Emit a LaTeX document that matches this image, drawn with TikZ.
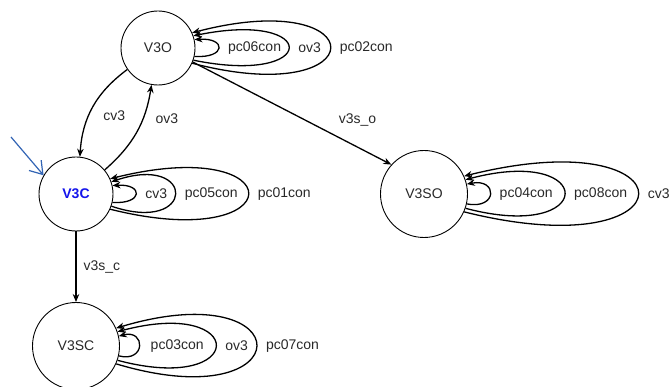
\documentclass[tikz,border=0pt]{standalone}
\usepackage{fontspec}
\setmainfont{Liberation Sans}
\usepackage{tikz}
\usetikzlibrary{arrows.meta, positioning}
\definecolor{inkgray}{RGB}{40, 40, 40}
\definecolor{stateblue}{RGB}{20, 20, 235}
\definecolor{pointerblue}{RGB}{50, 100, 180}

\begin{document}
\begin{tikzpicture}[
        x=1pt, y=-1pt,
        state/.style = {draw, circle, line width=0.9pt, minimum size=74pt, inner sep=0pt, text=inkgray, font=\fontsize{14}{16}\selectfont},
        bigstate/.style = {state, minimum size=87pt},
        arrow/.style = {line width=1.3pt, -{Stealth[length=8pt, width=6.5pt]}},
        lbl/.style = {text=inkgray, font=\fontsize{14}{16}\selectfont, inner sep=1pt},
        initial/.style = {pointerblue, line width=1.2pt, -{Straight Barb[length=12pt, width=16pt]}}
    ]
        \useasboundingbox (0,0) rectangle (670,387);

        % Nodes
        \node [state] (v3o) at (158,48) {V3O};
        \node [state, text=stateblue, font=\fontsize{14}{16}\selectfont\bfseries] (v3c) at (76,194) {V3C};
        \node [bigstate] (v3so) at (424,194) {V3SO};
        \node [bigstate] (v3sc) at (76,346) {V3SC};
        \coordinate (entry) at (11,137);

        % Connectors
        \draw [initial] (entry) -- (v3c.150);
        \draw [arrow] (v3o.215) to[bend right=25] node[lbl, pos=.6, right=13pt] {cv3} (v3c.84);
        \draw [arrow] (v3c.40) to[bend right=20] node[lbl, pos=.66, right=11pt] {ov3} (v3o.260);
        \draw [arrow] (v3o.-22) -- node[lbl, pos=.83, above=19pt] {v3s\_o} (v3so.138);
        \draw [arrow] (v3c) -- node[lbl, right=6pt] {v3s\_c} (v3sc);

        % Self loops
        \draw [arrow] (v3o.-13) .. controls +(32,2) and +(32,-2) .. node[lbl, right=8pt] {pc06con} (v3o.13);
        \draw [arrow] (v3o.-19) .. controls +(127,26) and +(127,-26) .. node[lbl, right=8pt] {ov3} (v3o.19);
        \draw [arrow] (v3o.-24) .. controls +(184,48) and +(184,-48) .. node[lbl, right=8pt] {pc02con} (v3o.24);

        \draw [arrow] (v3c.-13) .. controls +(31,2) and +(31,-2) .. node[lbl, right=8pt] {cv3} (v3c.13);
        \draw [arrow] (v3c.-19) .. controls +(85,29) and +(85,-29) .. node[lbl, right=8pt] {pc05con} (v3c.19);
        \draw [arrow] (v3c.-24) .. controls +(184,46) and +(184,-46) .. node[lbl, right=8pt] {pc01con} (v3c.24);

        \draw [arrow] (v3so.-13) .. controls +(31,6) and +(31,-6) .. node[lbl, right=8pt] {pc04con} (v3so.13);
        \draw [arrow] (v3so.-19) .. controls +(132,35) and +(132,-35) .. node[lbl, right=8pt] {pc08con} (v3so.19);
        \draw [arrow] (v3so.-24) .. controls +(232,58) and +(232,-58) .. node[lbl, right=8pt] {cv3} (v3so.24);

        \draw [arrow] (v3sc.-13) .. controls +(27,7) and +(27,-7) .. node[lbl, right=10pt] {pc03con} (v3sc.13);
        \draw [arrow] (v3sc.-19) .. controls +(131,35) and +(131,-35) .. node[lbl, right=8pt] {ov3} (v3sc.19);
        \draw [arrow] (v3sc.-24) .. controls +(187,56) and +(187,-56) .. node[lbl, right=8pt] {pc07con} (v3sc.24);
    \end{tikzpicture}
\end{document}
